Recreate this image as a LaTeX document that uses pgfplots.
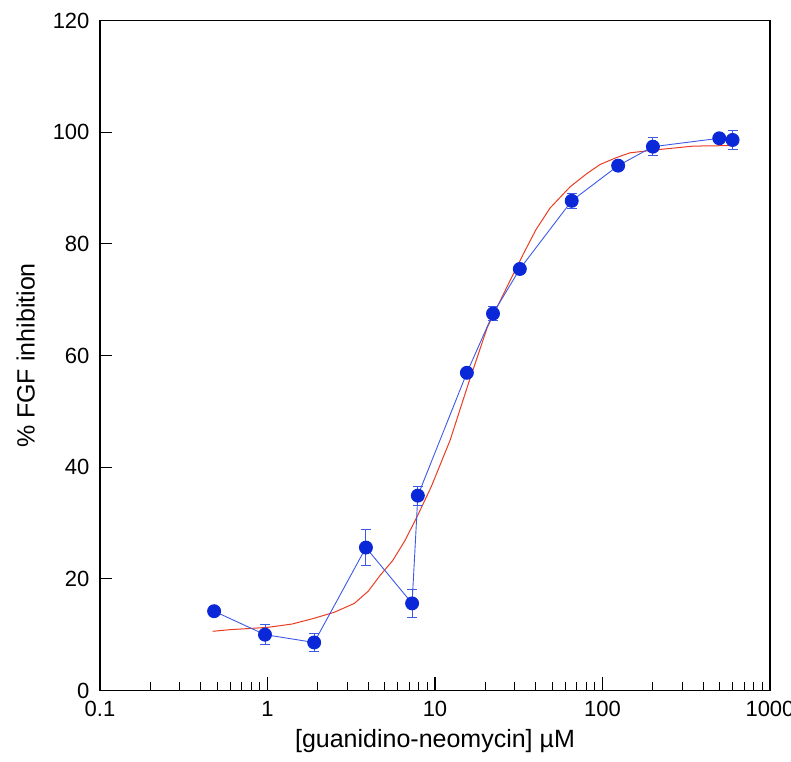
\documentclass[border=0pt]{standalone}
\usepackage{pgfplots}
\pgfplotsset{compat=1.18}
\usepackage{fontspec}
\setmainfont{Liberation Sans}
\definecolor{fitred}{RGB}{235,60,35}
\definecolor{lineblue}{RGB}{60,90,230}
\definecolor{markblue}{RGB}{10,40,215}
\begin{document}
\fontsize{22}{26}\selectfont
\begin{tikzpicture}
\begin{axis}[
  scale only axis,
  width=670pt, height=670pt,
  xmode=log, xmin=0.1, xmax=1000,
  ymin=0, ymax=120,
  ytick={0,20,40,60,80,100,120},
  xtick={0.1,1,10,100,1000},
  xticklabels={0.1,1,10,100,1000},
  axis line style={line width=1.3pt},
  tick pos=left,
  tick align=inside,
  every tick/.style={black, line width=0.9pt},
  major tick length=12pt,
  minor tick length=8pt,
  yminorticks=false,
  tick label style={font=\fontsize{22}{26}\selectfont},
  /pgf/number format/assume math mode=true,
  xticklabel style={yshift=-3pt},
  yticklabel style={xshift=-3pt},
  xlabel={[guanidino-neomycin] µM},
  ylabel={\% FGF inhibition},
  label style={font=\fontsize{25}{30}\selectfont},
  xlabel style={yshift=2pt},
  ylabel style={yshift=3pt},
  clip=false,
]
\addplot[fitred, line width=1pt, no marks] coordinates {
(0.47,10.6) (0.6,10.9) (1.0,11.3) (1.4,11.9) (1.88,12.9) (2.5,14.0)
(3.3,15.6) (4.0,17.8) (4.7,20.6) (5.6,23.3) (6.6,26.8) (7.78,31.0)
(9.5,36.5) (12.3,44.8) (15.8,54.9) (20.5,65.0) (26.8,72.2) (33.7,78.2)
(40,82.5) (48.6,86.4) (64,90.2) (80,92.5) (96.6,94.2) (120,95.4)
(146,96.3) (220,96.9) (348,97.5) (590,97.6)
};
\addplot[lineblue, line width=0.9pt,
  mark=*, mark size=6.5pt, mark options={markblue, fill=markblue, draw=markblue},
  error bars/.cd, y dir=both, y explicit,
  error bar style={lineblue, line width=0.9pt},
  error mark options={rotate=90, mark size=5pt, lineblue, line width=0.9pt}]
coordinates {
(0.48,14.2) +- (0,0.6)
(0.966,10.0) +- (0,1.8)
(1.9,8.6) +- (0,1.6)
(3.87,25.6) +- (0,3.2)
(7.3,15.6) +- (0,2.5)
(7.9,34.9) +- (0,1.7)
(15.5,56.9) +- (0,0.6)
(22.2,67.5) +- (0,1.2)
(32.1,75.5) +- (0,0.5)
(65.5,87.7) +- (0,1.4)
(124,94.0) +- (0,0.5)
(200,97.4) +- (0,1.6)
(498,98.9) +- (0,0.5)
(598,98.6) +- (0,1.7)
};
\draw[black, line width=1.2pt]
  (axis cs:1,0) -- (axis cs:1,2.4)
  (axis cs:10,0) -- (axis cs:10,2.4)
  (axis cs:100,0) -- (axis cs:100,2.4)
  (axis cs:0.1,20) -- (axis cs:0.115,20)
  (axis cs:0.1,40) -- (axis cs:0.115,40)
  (axis cs:0.1,60) -- (axis cs:0.115,60)
  (axis cs:0.1,80) -- (axis cs:0.115,80)
  (axis cs:0.1,100) -- (axis cs:0.115,100);
\end{axis}
\path (current axis.south west) ++(-100pt,-71pt) coordinate (bl);
\path (current axis.north east) ++(21pt,20.5pt) coordinate (tr);
\pgfresetboundingbox
\path[use as bounding box] (bl) rectangle (tr);
\end{tikzpicture}
\end{document}
